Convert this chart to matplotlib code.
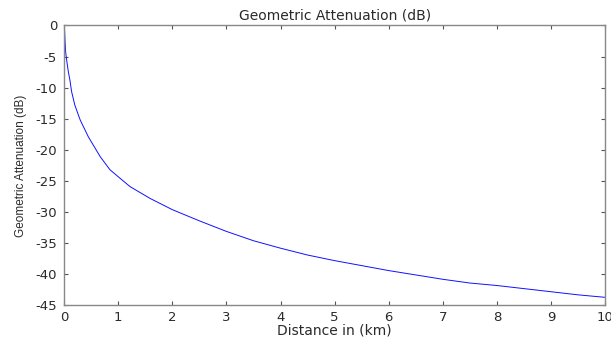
import matplotlib
matplotlib.use("Agg")
import matplotlib.pyplot as plt

# distance (km) and attenuation (dB)
distance = [0.01, 0.02, 0.03, 0.05, 0.08, 0.11, 0.14, 0.2, 0.3, 0.45, 0.67, 0.85,
            1.0, 1.22, 1.59, 2.0, 2.5, 3.0, 3.5, 4.0, 4.5, 5.0, 5.5, 6.0,
            6.5, 7.0, 7.5, 8.0, 8.5, 9.0, 9.5, 10.0]
atten = [-0.5, -2.5, -4.2, -5.6, -7.4, -8.8, -10.6, -12.8, -15.2, -17.9, -21.1, -23.2,
         -24.3, -25.9, -27.8, -29.6, -31.4, -33.1, -34.6, -35.8, -36.9, -37.8, -38.6, -39.4,
         -40.1, -40.8, -41.4, -41.8, -42.3, -42.8, -43.3, -43.7]

xticks = list(range(0, 11))
yticks = list(range(-45, 1, 5))

plt.rcParams['font.family'] = ['DejaVu Sans']
plt.rcParams['axes.unicode_minus'] = False
txt = '#2a2a2a'

fig = plt.figure(figsize=(6.11, 3.39), dpi=100)
ax = fig.add_axes([0.1047, 0.099, 0.886, 0.826])
ax.plot(distance, atten, color='#1010ff', linewidth=0.7)

ax.set_xlim(0, 10)
ax.set_ylim(-45, 0)
ax.set_xticks(xticks)
ax.set_yticks(yticks)
ax.tick_params(direction='in', top=True, right=True, length=3, width=0.8,
               color='#555555', labelsize=9.5, labelcolor=txt)
ax.tick_params(axis='y', pad=5)
ax.tick_params(axis='x', pad=4)
for s in ax.spines.values():
    s.set_color('#888888')
    s.set_linewidth(1.0)

ax.set_title('Geometric Attenuation (dB)', fontsize=10, color=txt, pad=4)
ax.set_xlabel('Distance in (km)', fontsize=10, color=txt, labelpad=0)
ax.set_ylabel('Geometric Attenuation (dB)', fontsize=8.5, color=txt, labelpad=6,
              family='Liberation Sans')

fig.savefig('out.png', dpi=100)
